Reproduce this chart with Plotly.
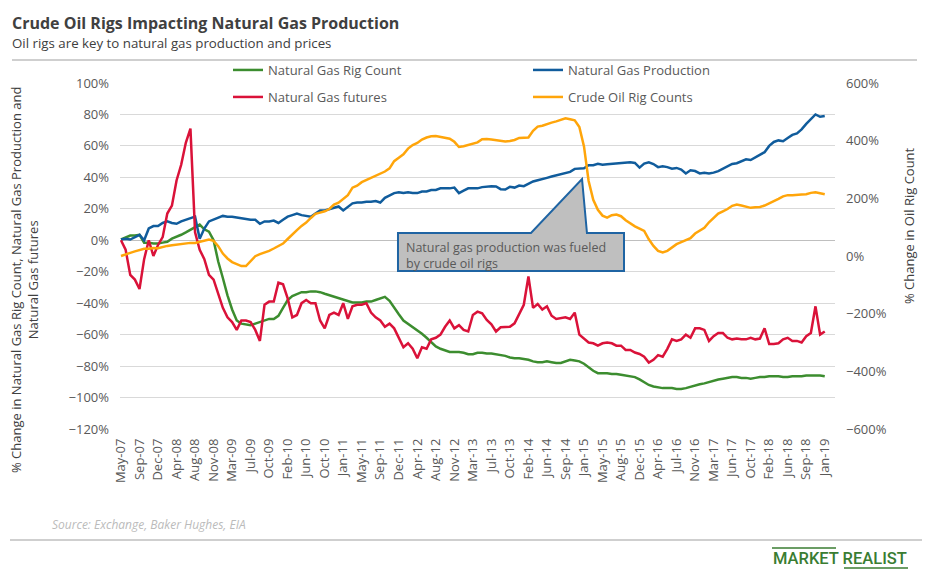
import pandas as pd
import plotly.graph_objects as go

START_DATE = "2007-05-18"

gas_rig_count = [
    0.5, 2, 3, 3, 3.5, -1.5, -1.5, -2, -2, -1.5,
    -1, 1, 2, 3.5, 5, 6.5, 8.5, 10, 7, 5.5,
    0, -13.5, -24, -35, -44, -51, -53, -53.5, -54, -53,
    -52, -51, -50, -50, -48, -43, -38, -35.5, -34, -33,
    -33, -32.5, -32.5, -33, -34, -35, -36, -37, -38, -39,
    -39.5, -39.5, -39.5, -39, -39, -38, -37, -36, -38.5, -43,
    -47, -51, -53, -55.5, -57.5, -59.5, -62, -65, -67.5, -69,
    -70, -71, -71, -71, -71.5, -72.5, -72.5, -71.5, -71.5, -72,
    -72, -72.5, -73, -73.5, -74.5, -75, -75, -75.5, -76, -77,
    -77.5, -77.5, -77, -77.5, -78, -78, -77, -76, -76.5, -77,
    -78.5, -81, -83, -84.5, -84.5, -84.5, -85, -85, -85.5, -86,
    -86.5, -87, -88.5, -90.5, -92, -93, -93.5, -94, -94, -94,
    -94.5, -94.5, -94, -93, -92.5, -91.5, -91, -90, -89, -88.5,
    -88, -87.5, -87, -87, -87.5, -87.5, -88, -87.5, -87, -87,
    -86.5, -86.5, -86.5, -87, -87, -86.5, -86.5, -86.5, -86, -86,
    -86, -86, -86.5,
]

gas_production = [
    0.5, 1, 0.5, 2, 3.5, 0, 7.5, 9, 9, 11,
    12, 11, 10.5, 12, 13, 14, 15, 1, 7.5, 12,
    13, 14.5, 15.5, 15, 15, 14.5, 14, 13.5, 13, 13,
    10.5, 12, 12, 12.5, 11, 13, 15, 16, 17, 16,
    15.5, 15, 17, 19, 19, 20, 21, 21.5, 19, 21,
    23.5, 24, 24, 24.5, 24.5, 25, 24, 27, 28.5, 30,
    30.5, 30, 30.5, 30, 30, 31, 31, 32, 32, 33,
    33, 33, 33.5, 30, 31.5, 33, 33, 33, 33.8, 34.2,
    34.4, 34.2, 32.5, 32.3, 34, 33.5, 34.8, 34.4, 36, 37.4,
    38.2, 38.8, 39.7, 40.5, 41.2, 42, 42.9, 43.5, 45.4, 45.4,
    45.8, 47.7, 47.7, 48.6, 48, 48.4, 48.6, 49, 49.2, 49.2,
    49.6, 49.2, 46.2, 48.8, 49.6, 48.5, 46.5, 47, 46.5, 45.5,
    46, 45, 42.5, 44.5, 44, 42.5, 43, 42.5, 43, 44,
    45.5, 47, 48.5, 49, 50, 51.5, 51, 52.5, 54.5, 56,
    60, 62.5, 63.5, 63, 65, 67, 68, 70.5, 74, 77,
    80, 78.5, 79,
]

gas_futures = [
    0, -6, -22, -25, -31, -12, 0, -10, -3, 2,
    17, 22, 38, 48, 62, 71, 5, -6, -12, -22,
    -25, -34, -43, -49, -52, -57, -51, -51, -52, -57,
    -64, -41, -39, -39, -27, -28, -37, -49, -47.5, -40,
    -38, -40, -40, -51, -56, -47.5, -46, -47.5, -40, -50,
    -42, -41, -41, -40, -46, -49, -51, -55, -53, -56,
    -62, -68, -65.5, -69, -75, -68, -69, -63, -62, -60,
    -55, -51, -56, -54, -57, -58, -47.5, -45.4, -46.5, -50.7,
    -53.4, -58, -55.3, -55, -55, -52.8, -47, -41, -23, -43,
    -40.5, -44, -42, -48, -50, -49.6, -49, -50, -46, -60,
    -62.7, -65, -65.5, -67, -65.5, -65, -65.5, -67, -67, -69.7,
    -69.7, -71.4, -72.3, -74, -77.8, -76, -73, -74, -69, -63,
    -64, -63, -60, -62, -56, -56, -57, -64, -61, -59,
    -59, -62, -63, -62.5, -63, -63, -62, -63, -62.5, -56,
    -66, -66, -65.5, -63, -62, -64, -64, -65, -61, -59,
    -42, -60, -58,
]

oil_rig_counts = [
    0, 6.5, 11, 16, 20, 25, 25, 28, 27, 32,
    35, 37.5, 40, 41, 43, 45.5, 45.5, 49, 55, 57,
    52.5, 34, 8.5, -8.5, -21, -28, -35, -35, -17, -0.6,
    6.5, 11, 18, 26, 34, 43, 59, 75.6, 89.5, 104.5,
    116, 132, 146, 150.5, 155, 163, 178, 185, 199, 211,
    237, 244, 256, 263, 270, 277, 285, 293, 304, 329,
    341, 353, 372.5, 385, 392, 404, 411, 415, 416, 413,
    408, 407, 396, 378, 380.5, 385, 390, 394, 405, 406,
    404, 401, 398, 397, 399, 402.5, 409.6, 411, 411, 434,
    449, 452, 458, 462.6, 467, 472, 477.6, 474, 470.6, 447.5,
    380, 260, 195, 160, 140, 133, 141.5, 144, 138, 124,
    113, 103, 95, 87, 58, 35, 18, 12, 18, 29,
    41, 48, 56, 62, 78, 89, 97.6, 117, 131, 147,
    155, 163, 174, 178.4, 175, 170, 167, 169, 170, 175,
    182, 191, 198, 207, 211, 211, 211, 213, 214, 219,
    221, 218, 214,
]

tick_labels = [
    "May-07", "Sep-07", "Dec-07", "Apr-08", "Aug-08", "Nov-08", "Mar-09", "Jul-09",
    "Oct-09", "Feb-10", "Jun-10", "Oct-10", "Jan-11", "May-11", "Sep-11", "Dec-11",
    "Apr-12", "Aug-12", "Nov-12", "Mar-13", "Jul-13", "Oct-13", "Feb-14", "Jun-14",
    "Sep-14", "Jan-15", "May-15", "Aug-15", "Dec-15", "Apr-16", "Jul-16", "Nov-16",
    "Mar-17", "Jun-17", "Oct-17", "Feb-18", "Jun-18", "Sep-18", "Jan-19",
]

dates = pd.date_range(START_DATE, periods=len(gas_futures), freq="28D")
tick_dates = pd.date_range(START_DATE, periods=len(tick_labels), freq="112D")

GREEN = "#3C8D2F"
BLUE = "#105C9C"
RED = "#DA1239"
ORANGE = "#FFA50A"
TEXT = "#595959"
FONT = "Open Sans"

W, H = 929, 576
ML, MR, MT, MB = 120, 94, 83, 147
PW = W - ML - MR
PH = H - MT - MB


def fx(px):
    return (px - ML) / PW


def fy(py):
    return (H - MB - py) / PH


fig = go.Figure()
fig.add_trace(go.Scatter(x=dates, y=gas_rig_count, name="Natural Gas Rig Count", mode="lines",
                         line=dict(color=GREEN, width=2.5), legend="legend"))
fig.add_trace(go.Scatter(x=dates, y=gas_production, name="Natural Gas Production", mode="lines",
                         line=dict(color=BLUE, width=2.5), legend="legend"))
fig.add_trace(go.Scatter(x=dates, y=gas_futures, name="Natural Gas futures", mode="lines",
                         line=dict(color=RED, width=2.5), legend="legend2"))
fig.add_trace(go.Scatter(x=dates, y=oil_rig_counts, name="Crude Oil Rig Counts", mode="lines",
                         line=dict(color=ORANGE, width=2.5), yaxis="y2", legend="legend2"))

legend_common = dict(orientation="h", xanchor="left", yanchor="middle", entrywidth=255,
                     entrywidthmode="pixels", font=dict(family=FONT, size=13, color=TEXT),
                     bgcolor="rgba(0,0,0,0)", traceorder="normal")

# callout polygon (box with pointer)
pts = [(398, 233), (531, 233), (582, 179), (587, 233), (624, 233), (624, 271), (398, 271)]
path = "M " + " L ".join(f"{fx(a):.4f},{fy(b):.4f}" for a, b in pts) + " Z"

shapes = [
    dict(type="line", xref="paper", yref="paper", x0=fx(12), x1=fx(917), y0=fy(60), y1=fy(60),
         line=dict(color="#bfbfbf", width=1.5)),
    dict(type="line", xref="paper", yref="paper", x0=fx(10), x1=fx(922), y0=fy(540), y1=fy(540),
         line=dict(color="#bfbfbf", width=1.5)),
    dict(type="path", xref="paper", yref="paper", path=path, fillcolor="#BFBFBF",
         line=dict(color="#1F64A3", width=2)),
    dict(type="line", xref="paper", yref="paper", x0=fx(772), x1=fx(836), y0=fy(548), y1=fy(548),
         line=dict(color="#3A7D32", width=1.5)),
    dict(type="line", xref="paper", yref="paper", x0=fx(844), x1=fx(908), y0=fy(568), y1=fy(568),
         line=dict(color="#3A7D32", width=1.5)),
]

annotations = [
    dict(xref="paper", yref="paper", x=fx(10), y=fy(23), xanchor="left", yanchor="middle",
         text="Crude Oil Rigs Impacting Natural Gas Production", showarrow=False,
         font=dict(family=FONT, size=16, color="#404040", weight=700)),
    dict(xref="paper", yref="paper", x=fx(10), y=fy(43), xanchor="left", yanchor="middle",
         text="Oil rigs are key to natural gas production and prices", showarrow=False,
         font=dict(family=FONT, size=13.3, color="#404040")),
    dict(xref="paper", yref="paper", x=fx(24), y=fy(280), xanchor="center", yanchor="middle",
         text="% Change in Natural Gas Rig Count, Natural Gas Production and<br>Natural Gas futures",
         textangle=-90, showarrow=False, font=dict(family=FONT, size=13, color="#404040")),
    dict(xref="paper", yref="paper", x=fx(909), y=fy(225), xanchor="center", yanchor="middle",
         text="% Change in Oil Rig Count", textangle=-90, showarrow=False,
         font=dict(family=FONT, size=13, color="#404040")),
    dict(xref="paper", yref="paper", x=fx(404), y=fy(255), xanchor="left", yanchor="middle",
         align="left", text="Natural gas production was fueled<br>by crude oil rigs", showarrow=False,
         font=dict(family=FONT, size=12.5, color=TEXT)),
    dict(xref="paper", yref="paper", x=fx(50), y=fy(524), xanchor="left", yanchor="middle",
         text="<i>Source: Exchange, Baker Hughes, EIA</i>", showarrow=False,
         font=dict(family=FONT, size=12, color="#BBBBBB")),
    dict(xref="paper", yref="paper", x=fx(840), y=fy(558), xanchor="center", yanchor="middle",
         text="MARKET REALIST", showarrow=False,
         font=dict(family="Roboto", size=16.5, color="#3A7D32", weight=500)),
]

fig.update_layout(
    width=W, height=H,
    margin=dict(l=ML, r=MR, t=MT, b=MB, autoexpand=False),
    paper_bgcolor="white", plot_bgcolor="white",
    font=dict(family=FONT, size=13, color=TEXT),
    showlegend=True,
    legend=dict(legend_common, x=fx(228), y=fy(70)),
    legend2=dict(legend_common, x=fx(228), y=fy(97)),
    xaxis=dict(type="date", range=["2007-05-12", "2019-03-14"], tickvals=tick_dates,
               ticktext=tick_labels, tickangle=-90, showgrid=False, zeroline=False,
               showline=False, ticks="", tickfont=dict(size=13, color=TEXT),
               ticklabelstandoff=6),
    yaxis=dict(range=[-120, 100], dtick=20, ticksuffix="%", gridcolor="#D9D9D9", gridwidth=1,
               zeroline=True, zerolinecolor="#BFBFBF", zerolinewidth=1, showline=False,
               ticks="", tickfont=dict(size=13, color=TEXT), ticklabelstandoff=10),
    yaxis2=dict(range=[-600, 600], dtick=200, ticksuffix="%", overlaying="y", side="right",
                showgrid=False, zeroline=False, showline=False, ticks="",
                tickfont=dict(size=13, color=TEXT), ticklabelstandoff=10),
    shapes=shapes,
    annotations=annotations,
)

fig.write_html("out.html", config={"displayModeBar": False},
               post_script="document.body.style.margin='0';document.body.style.overflow='hidden';")
